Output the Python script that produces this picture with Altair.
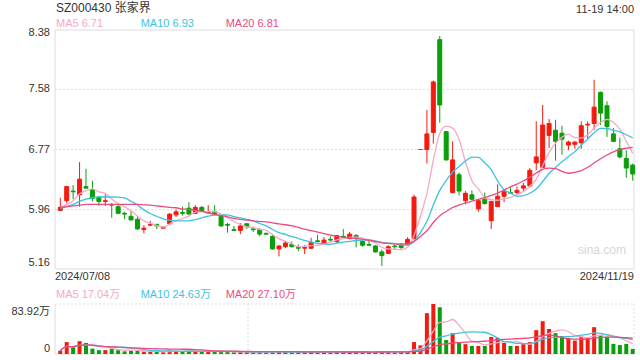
import altair as alt
import pandas as pd

# ---------------- data ----------------
opens = [5.95, 6.08, 6.21, 6.16, 6.27, 6.23, 6.13, 6.07, 6.03, 6.00,
         5.91, 5.87, 5.83, 5.69, 5.75, 5.76, 5.71, 5.77, 5.89, 5.92,
         5.98, 5.91, 5.99, 5.92, 5.93, 5.87, 5.76, 5.69, 5.68, 5.77,
         5.70, 5.69, 5.64, 5.60, 5.43, 5.46, 5.49, 5.45, 5.44, 5.44,
         5.54, 5.51, 5.56, 5.53, 5.60, 5.57, 5.61, 5.53, 5.49, 5.47,
         5.39, 5.37, 5.47, 5.48, 5.49, 5.57, 6.77, 6.77, 7.00, 8.25,
         7.01, 6.19, 6.43, 6.08, 6.16, 5.97, 6.10, 5.81, 6.00, 6.14,
         6.19, 6.19, 6.25, 6.28, 6.59, 6.53, 6.96, 7.03, 6.99, 6.83,
         6.84, 6.86, 7.10, 7.12, 7.54, 7.36, 6.98, 6.78, 6.65, 6.56]
closes = [5.99, 6.27, 6.20, 6.37, 6.25, 6.11, 6.07, 6.08, 6.02, 5.91,
          5.90, 5.82, 5.70, 5.71, 5.76, 5.74, 5.72, 5.90, 5.93, 5.91,
          5.90, 5.99, 5.94, 5.93, 5.90, 5.74, 5.75, 5.68, 5.74, 5.73,
          5.69, 5.63, 5.63, 5.43, 5.47, 5.51, 5.46, 5.44, 5.45, 5.52,
          5.53, 5.55, 5.55, 5.61, 5.59, 5.63, 5.57, 5.48, 5.48, 5.39,
          5.34, 5.46, 5.46, 5.45, 5.56, 6.13, 6.77, 6.98, 7.68, 7.37,
          6.63, 6.63, 6.21, 6.18, 6.10, 6.08, 6.04, 6.07, 6.14, 6.20,
          6.18, 6.22, 6.28, 6.49, 6.67, 7.10, 7.12, 6.88, 6.91, 6.87,
          6.87, 7.09, 7.11, 7.34, 7.26, 7.08, 6.88, 6.67, 6.52, 6.44]
highs = [6.12, 6.28, 6.29, 6.60, 6.51, 6.35, 6.14, 6.17, 6.05, 6.05,
         5.93, 5.94, 5.87, 5.75, 5.81, 5.77, 5.74, 5.91, 5.96, 6.00,
         6.06, 6.02, 6.01, 6.02, 6.02, 5.87, 5.78, 5.74, 5.78, 5.77,
         5.73, 5.71, 5.65, 5.63, 5.48, 5.54, 5.53, 5.49, 5.48, 5.58,
         5.62, 5.59, 5.60, 5.62, 5.70, 5.66, 5.63, 5.54, 5.54, 5.48,
         5.42, 5.48, 5.48, 5.51, 5.59, 6.16, 6.77, 7.30, 7.70, 8.30,
         7.02, 6.88, 6.46, 6.21, 6.22, 6.10, 6.19, 6.08, 6.30, 6.22,
         6.26, 6.27, 6.32, 6.52, 7.15, 7.37, 7.18, 7.17, 7.09, 6.89,
         6.88, 7.15, 7.15, 7.71, 7.55, 7.42, 7.06, 6.93, 6.76, 6.58]
lows = [5.94, 6.05, 6.10, 6.00, 6.24, 6.07, 6.01, 6.01, 5.85, 5.90,
        5.83, 5.82, 5.69, 5.64, 5.74, 5.70, 5.71, 5.75, 5.86, 5.88,
        5.89, 5.90, 5.93, 5.91, 5.89, 5.73, 5.65, 5.67, 5.63, 5.70,
        5.66, 5.60, 5.62, 5.42, 5.33, 5.44, 5.45, 5.40, 5.36, 5.43,
        5.53, 5.50, 5.53, 5.51, 5.58, 5.56, 5.45, 5.46, 5.48, 5.38,
        5.20, 5.36, 5.42, 5.42, 5.48, 5.56, 6.77, 6.58, 6.85, 7.13,
        6.62, 6.18, 6.15, 6.03, 6.09, 5.93, 6.03, 5.70, 6.00, 6.06,
        6.17, 6.17, 6.20, 6.26, 6.49, 6.52, 6.79, 6.62, 6.70, 6.76,
        6.78, 6.78, 6.92, 7.03, 7.10, 6.94, 6.87, 6.65, 6.39, 6.35]
volumes = [5.5, 20.0, 11.5, 21.5, 18.5, 9.0, 6.5, 6.5, 9.0, 6.5,
           4.5, 5.5, 5.0, 4.0, 4.0, 3.5, 3.0, 6.0, 5.5, 4.5,
           5.5, 4.5, 4.0, 4.0, 3.5, 4.5, 3.5, 3.0, 3.5, 3.0,
           3.0, 3.0, 2.8, 4.5, 4.0, 3.5, 3.0, 3.0, 3.0, 4.0,
           3.0, 3.5, 3.0, 4.0, 3.0, 3.5, 3.5, 3.0, 2.8, 3.5,
           4.0, 4.0, 3.0, 3.5, 4.5, 20.0, 14.5, 68.5, 83.92, 78.5,
           23.5, 35.0, 19.0, 16.5, 13.5, 13.5, 13.5, 28.5, 27.0, 18.5,
           13.5, 13.5, 16.5, 20.0, 40.0, 55.0, 42.0, 35.0, 30.0, 27.0,
           22.5, 29.0, 28.5, 45.0, 32.0, 29.0, 17.0, 15.0, 17.0, 8.5]
ma5_head = [5.98, 6.03, 6.08, 6.17]
ma10_head = [5.98, 6.00, 6.03, 6.07, 6.10, 6.12, 6.13, 6.13, 6.13]
ma20_head = [5.99, 6.00, 6.01, 6.02, 6.03, 6.03, 6.03, 6.03, 6.03, 6.03,
             6.03, 6.03, 6.03, 6.025, 6.02, 6.01, 6.00, 5.99, 5.985]

title_text = "SZ000430 张家界"
time_text = "11-19 14:00"
date_labels = ["2024/07/08", "2024/11/19"]
price_ticks = [8.38, 7.58, 6.77, 5.96, 5.16]
vol_max = 83.92
vol_tick_labels = ["83.92万", "0"]
price_legend = ["MA5 6.71", "MA10 6.93", "MA20 6.81"]
vol_legend = ["MA5 17.04万", "MA10 24.63万", "MA20 27.10万"]
watermark = "sina.com"

# ---------------- styles ----------------
UP, DOWN = "#f31b0f", "#0a9f0a"
MA_COLORS = ["#f7a8c4", "#3cc4df", "#ee4a7f"]
FRAME = "#dcdcdc"
TXT = "#333333"
FONT = "Liberation Sans, Noto Sans CJK SC"

W, H = 579, 324
PRICE_RANGE = [239, 0]
VOL_RANGE = [324, 274]

n = len(closes)


def pad(head):
    return list(head) + [None] * (n - len(head))


df = pd.DataFrame({"i": list(range(n)), "open": opens, "close": closes,
                   "high": highs, "low": lows, "vol": volumes,
                   "h5": pad(ma5_head), "h10": pad(ma10_head), "h20": pad(ma20_head)})
df["dir"] = ["up" if c >= o else "down" for o, c in zip(opens, closes)]

xs = alt.Scale(domain=[-0.82, n - 0.8], nice=False, zero=False, padding=0)
ps = alt.Scale(domain=[price_ticks[-1], price_ticks[0]], range=PRICE_RANGE, nice=False, zero=False, padding=0)
vs = alt.Scale(domain=[0, vol_max], range=VOL_RANGE, nice=False, zero=False, padding=0)
cs = alt.Scale(domain=["up", "down"], range=[UP, DOWN])

base = alt.Chart(df)
X = alt.X("i:Q", scale=xs, axis=None)
COL = alt.Color("dir:N", scale=cs, legend=None)


def one():
    return alt.Chart(pd.DataFrame({"k": [0]}))


layers = []

# frames and grid
frame_rules = [
    dict(x=alt.value(0), x2=alt.value(W), y=alt.value(0)),
    dict(x=alt.value(0), x2=alt.value(W), y=alt.value(239)),
    dict(x=alt.value(0), y=alt.value(0), y2=alt.value(239)),
    dict(x=alt.value(W), y=alt.value(0), y2=alt.value(239)),
    dict(x=alt.value(0), x2=alt.value(W), y=alt.value(324)),
    dict(x=alt.value(0), y=alt.value(274), y2=alt.value(324)),
]
for enc in frame_rules:
    layers.append(one().mark_rule(color=FRAME, strokeWidth=1).encode(**enc))
dotted_rules = [
    dict(x=alt.value(0), x2=alt.value(W), y=alt.value(274)),
    dict(x=alt.value(W), y=alt.value(274), y2=alt.value(324)),
    dict(x=alt.value(W / 3), y=alt.value(274), y2=alt.value(324)),
    dict(x=alt.value(2 * W / 3), y=alt.value(274), y2=alt.value(324)),
]
for enc in dotted_rules:
    layers.append(one().mark_rule(color=FRAME, strokeWidth=1, strokeDash=[2, 2]).encode(**enc))

grid_df = pd.DataFrame({"v": price_ticks[1:-1]})
layers.append(alt.Chart(grid_df).mark_rule(color=FRAME, strokeWidth=1, strokeDash=[2, 2]).encode(
    x=alt.value(0), x2=alt.value(W), y=alt.Y("v:Q", scale=ps, axis=None)))

# watermark
layers.append(one().mark_text(text=watermark, font=FONT, fontSize=12, color="#d6d6d6",
                              align="center", baseline="middle").encode(x=alt.value(547), y=alt.value(220)))

# candles
layers.append(base.mark_rule(strokeWidth=1).encode(
    X, y=alt.Y("low:Q", scale=ps, axis=None), y2="high:Q", color=COL))
layers.append(base.mark_bar(size=4, strokeWidth=1).encode(
    X, y=alt.Y("open:Q", scale=ps, axis=None), y2="close:Q", color=COL,
    stroke=alt.Stroke("dir:N", scale=cs, legend=None)))

# moving averages (library window transforms; read values where the window is incomplete)
S = [alt.SortField("i")]
ma = base
for w in (5, 10, 20):
    ma = ma.transform_window(**{f"m{w}": "mean(close)", f"c{w}": "count()"}, frame=[-(w - 1), 0], sort=S)
    ma = ma.transform_window(**{f"vma{w}": "mean(vol)"}, frame=[-(w - 1), 0], sort=S)
    ma = ma.transform_calculate(**{f"ma{w}": f"datum.c{w} < {w} ? datum.h{w} : datum.m{w}"})

for f, c in zip(["ma5", "ma10", "ma20"], MA_COLORS):
    layers.append(ma.mark_line(color=c, strokeWidth=1.3, interpolate="monotone").encode(
        X, y=alt.Y(f"{f}:Q", scale=ps, axis=None)))

# volume
layers.append(base.mark_bar(size=4).encode(X, y=alt.Y("vol:Q", scale=vs, axis=None), color=COL))
for f, c in zip(["vma5", "vma10", "vma20"], MA_COLORS):
    layers.append(ma.mark_line(color=c, strokeWidth=1.3, interpolate="monotone").encode(
        X, y=alt.Y(f"{f}:Q", scale=vs, axis=None)))


# texts
def txt(t, x, y, size=11, color=TXT, align="left"):
    return one().mark_text(text=t, font=FONT, fontSize=size, color=color, align=align,
                           baseline="middle").encode(x=alt.value(x), y=alt.value(y))


layers.append(txt(title_text, 1, -22, size=12))
layers.append(txt(time_text, W, -20, size=11, align="right"))
for t, xx, c in zip(price_legend, [1, 85.7, 170.7], MA_COLORS):
    layers.append(txt(t, xx, -6, color=c))
for t, xx, c in zip(vol_legend, [1, 85.7, 170.7], MA_COLORS):
    layers.append(txt(t, xx, 264.5, color=c))
layers.append(txt(date_labels[0], 0, 247))
layers.append(txt(date_labels[1], W, 247, align="right"))
tick_df = pd.DataFrame({"v": price_ticks[1:-1], "t": [f"{v:.2f}" for v in price_ticks[1:-1]]})
layers.append(alt.Chart(tick_df).mark_text(font=FONT, fontSize=11, color=TXT, align="right",
                                            baseline="middle").encode(
    x=alt.value(-5), y=alt.Y("v:Q", scale=ps, axis=None), text="t:N"))
layers.append(txt(f"{price_ticks[0]:.2f}", -5, 3, align="right"))
layers.append(txt(f"{price_ticks[-1]:.2f}", -5, 233, align="right"))
layers.append(txt(vol_tick_labels[0], -5, 281.7, align="right"))
layers.append(txt(vol_tick_labels[1], -5, 318.7, align="right"))

chart = alt.layer(*layers).resolve_scale(y="independent", color="independent").properties(
    width=W, height=H,
    autosize=alt.AutoSizeParams(type="none"),
    padding={"left": 55, "top": 30, "right": 6, "bottom": 6},
    background="white",
).configure_view(stroke=None)

chart.save("out.html", embed_options={"renderer": "svg", "actions": False})
